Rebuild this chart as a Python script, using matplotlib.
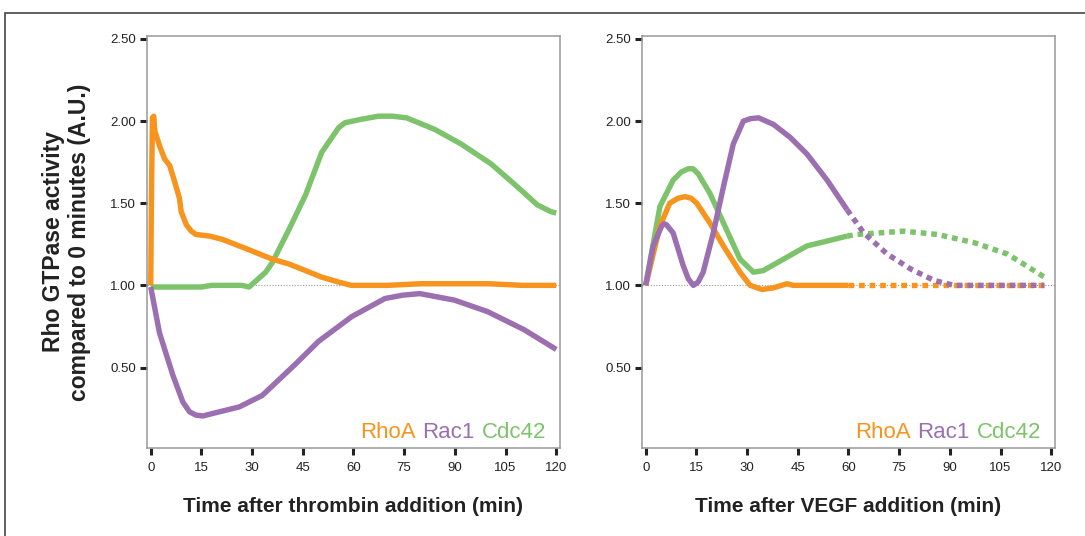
import matplotlib
matplotlib.use("Agg")
import matplotlib.pyplot as plt
from matplotlib.offsetbox import TextArea, HPacker, AnchoredOffsetbox
from matplotlib.patches import Rectangle

plt.rcParams['font.family'] = ['Liberation Sans', 'DejaVu Sans']

ORANGE = '#F7941D'
PURPLE = '#9B6FB0'
GREEN = '#7DC36B'

# thrombin panel
thr_rhoa_t = [0, 0.2, 0.5, 0.9, 1.2, 2.6, 4.1, 5.6, 7.1, 8.5, 9.0, 10.5, 12, 13.4, 17.4,
              21.2, 26.2, 31.1, 35.9, 40.9, 45.8, 50.6, 55.6, 59.4, 70, 80, 90, 100, 110, 120]
thr_rhoa_v = [1.0, 1.52, 2.02, 2.03, 1.94, 1.85, 1.77, 1.73, 1.63, 1.53, 1.45, 1.37, 1.33, 1.31, 1.30,
              1.28, 1.24, 1.20, 1.16, 1.13, 1.09, 1.05, 1.02, 1.0, 1.0, 1.01, 1.01, 1.01, 1.0, 1.0]

thr_rac1_t = [0, 2.6, 6.6, 9.5, 11.5, 13.4, 15.5, 18.3, 26.2, 33, 42.8, 49.7, 59.5, 69.3, 74.5,
              79.6, 89.9, 99.7, 110.5, 120]
thr_rac1_v = [0.99, 0.71, 0.45, 0.29, 0.23, 0.21, 0.205, 0.22, 0.26, 0.33, 0.52, 0.66, 0.81, 0.92,
              0.94, 0.95, 0.91, 0.84, 0.73, 0.61]

thr_cdc42_t = [0, 10, 15, 18, 27, 29.1, 34, 36, 40.9, 45.8, 50.6, 55.6, 57.5, 62, 67.4, 71.5,
               75.7, 84, 91.9, 100.7, 108.5, 114.4, 118.3, 120]
thr_cdc42_v = [0.99, 0.99, 0.99, 1.0, 1.0, 0.99, 1.08, 1.14, 1.34, 1.55, 1.81, 1.96, 1.99, 2.01,
               2.03, 2.03, 2.02, 1.95, 1.86, 1.74, 1.60, 1.49, 1.45, 1.44]

# VEGF panel: measured (solid) up to 60 min, projected (dotted) after
veg_rhoa_t = [0, 4.2, 7.1, 9.5, 11.6, 13.5, 15.1, 19, 23, 27.9, 30.9, 34.4, 37.8, 41.8, 43.7,
              50, 60]
veg_rhoa_v = [1.0, 1.36, 1.50, 1.53, 1.54, 1.53, 1.50, 1.38, 1.24, 1.08, 1.0, 0.975, 0.985,
              1.01, 1.0, 1.0, 1.0]
veg_rhoa_proj_t = [60, 118]
veg_rhoa_proj_v = [1.0, 1.0]

veg_rac1_t = [0, 2.2, 4.7, 5.4, 6.1, 8.1, 11.1, 12.6, 14.1, 15.5, 17, 20, 23, 25.9, 28.9, 31,
              33.4, 37.8, 42.8, 47.7, 53.7, 59.6]
veg_rac1_v = [1.0, 1.24, 1.36, 1.375, 1.37, 1.32, 1.12, 1.04, 1.0, 1.02, 1.08, 1.32, 1.60, 1.86,
              2.0, 2.015, 2.02, 1.98, 1.90, 1.80, 1.64, 1.46]
veg_rac1_proj_t = [59.6, 64.5, 71.5, 78.4, 85.3, 91.3, 100, 118]
veg_rac1_proj_v = [1.46, 1.32, 1.19, 1.10, 1.03, 1.0, 1.0, 1.0]

veg_cdc42_t = [0, 4.2, 8.1, 10.5, 12.6, 14, 15.5, 19, 23, 27.9, 31.9, 34.8, 40.8, 47.7, 53.7, 59.6]
veg_cdc42_v = [1.0, 1.48, 1.64, 1.69, 1.71, 1.71, 1.68, 1.56, 1.38, 1.16, 1.08, 1.09, 1.16, 1.24,
               1.27, 1.30]
veg_cdc42_proj_t = [59.6, 62.6, 76.4, 86.3, 97.2, 107.1, 118]
veg_cdc42_proj_v = [1.30, 1.31, 1.33, 1.31, 1.26, 1.19, 1.05]

x_ticks = [0, 15, 30, 45, 60, 75, 90, 105, 120]
y_ticks = [0.5, 1.0, 1.5, 2.0, 2.5]
names = ['RhoA', 'Rac1', 'Cdc42']
colors = [ORANGE, PURPLE, GREEN]

LW = 3.9
DOTS = (0, (1.05, 0.9))

fig = plt.figure(figsize=(10.85, 5.36), dpi=100)

# outer frame of the figure panel
fig.add_artist(Rectangle((5 / 1085, -0.2), 1.2, 0.2 + 1 - 13 / 536,
                         transform=fig.transFigure, fill=False,
                         edgecolor='#444444', linewidth=1.2))

ax1 = fig.add_axes([0.1355, 0.1642, 0.3806, 0.7692])
ax2 = fig.add_axes([0.5917, 0.1642, 0.3806, 0.7692])


def style_axes(ax, xlabel):
    ax.set_xlim(-1.1, 121.1)
    ax.set_ylim(0.01, 2.52)
    ax.set_xticks(x_ticks)
    ax.set_yticks(y_ticks)
    ax.set_yticklabels(['%.2f' % v for v in y_ticks])
    for s in ax.spines.values():
        s.set_color('#999999')
        s.set_linewidth(1.1)
    ax.tick_params(axis='both', length=5, width=2.2, color='#222222',
                   labelsize=9.5, labelcolor='#222222', pad=3)
    ax.tick_params(axis='x', pad=5)
    ax.axhline(1.0, color='#999999', lw=0.8, ls=(0, (1, 1.5)), zorder=1)
    ax.set_xlabel(xlabel, fontsize=15, fontweight='bold', labelpad=17, color='#222222')

    # coloured legend text in the lower right corner
    parts = [TextArea(n, textprops=dict(color=c, fontsize=16)) for n, c in zip(names, colors)]
    box = HPacker(children=parts, align='baseline', pad=0, sep=5)
    anc = AnchoredOffsetbox(loc='lower right', child=box, pad=0, borderpad=0, frameon=False,
                            bbox_to_anchor=(0.966, 0.012), bbox_transform=ax.transAxes)
    ax.add_artist(anc)


style_axes(ax1, 'Time after thrombin addition (min)')
style_axes(ax2, 'Time after VEGF addition (min)')

ax1.set_ylabel('Rho GTPase activity\ncompared to 0 minutes (A.U.)', fontsize=16.5,
               fontweight='bold', labelpad=14, color='#222222', linespacing=1.15)

ax1.plot(thr_cdc42_t, thr_cdc42_v, color=GREEN, lw=LW, solid_capstyle='butt', zorder=3)
ax1.plot(thr_rac1_t, thr_rac1_v, color=PURPLE, lw=LW, solid_capstyle='butt', zorder=3)
ax1.plot(thr_rhoa_t, thr_rhoa_v, color=ORANGE, lw=LW, solid_capstyle='butt', zorder=4)

ax2.plot(veg_cdc42_t, veg_cdc42_v, color=GREEN, lw=LW, solid_capstyle='butt', zorder=3)
ax2.plot(veg_rhoa_t, veg_rhoa_v, color=ORANGE, lw=LW, solid_capstyle='butt', zorder=4)
ax2.plot(veg_rac1_t, veg_rac1_v, color=PURPLE, lw=LW, solid_capstyle='butt', zorder=5)
ax2.plot(veg_cdc42_proj_t, veg_cdc42_proj_v, color=GREEN, lw=LW, ls=DOTS,
         dash_capstyle='butt', zorder=3)
ax2.plot(veg_rhoa_proj_t, veg_rhoa_proj_v, color=ORANGE, lw=LW, ls=DOTS,
         dash_capstyle='butt', zorder=4)
ax2.plot(veg_rac1_proj_t, veg_rac1_proj_v, color=PURPLE, lw=LW, ls=DOTS,
         dash_capstyle='butt', zorder=5)

fig.savefig('out.png', dpi=100)
